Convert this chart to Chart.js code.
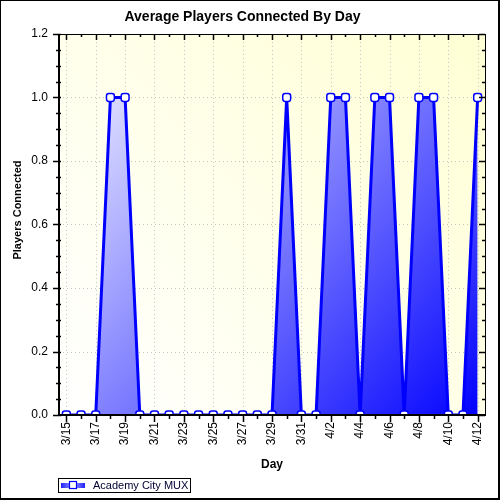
<!DOCTYPE html>
<html>
<head>
<meta charset="utf-8">
<script src="https://cdn.jsdelivr.net/npm/chart.js@4.4.1/dist/chart.umd.min.js"></script>
<style>
  html, body { margin: 0; padding: 0; background: #fff; }
  #wrap { width: 500px; height: 500px; }
</style>
</head>
<body>
<div id="wrap"><canvas id="chart" width="500" height="500"></canvas></div>
<script>
// Days on the x axis (one per day, every other one labelled)
const days = ['3/15', '3/16', '3/17', '3/18', '3/19', '3/20', '3/21', '3/22', '3/23', '3/24',
    '3/25', '3/26', '3/27', '3/28', '3/29', '3/30', '3/31', '4/1', '4/2', '4/3',
    '4/4', '4/5', '4/6', '4/7', '4/8', '4/9', '4/10', '4/11', '4/12'];

// Average players connected per day
const players = [0, 0, 0, 1, 1, 0, 0, 0, 0, 0,
    0, 0, 0, 0, 0, 1, 0, 0, 1, 1,
    0, 1, 1, 0, 1, 1, 0, 0, 1];

const seriesName = 'Academy City MUX';
const yTitle = 'Players Connected';
const yMin = 0;
const yMax = 1.2;
const yStep = 0.2;
const yMinorStep = 0.05;

const FONT = "Arial, 'Liberation Sans', sans-serif";

// fill gradient over the plot area (light top-left -> deep blue bottom-right)
function fillGradient(context) {
    const { ctx, chartArea } = context.chart;
    if (!chartArea) return 'rgba(0,0,255,0.5)';
    const g = ctx.createLinearGradient(chartArea.left, chartArea.top, chartArea.right, chartArea.bottom);
    g.addColorStop(0, '#ffffff');
    g.addColorStop(1, '#0000ff');
    return g;
}

// background, dotted grid, axis frame and tick marks
const framePlugin = {
    id: 'frame',
    beforeDraw(chart) {
        const { ctx, chartArea: a, width, height } = chart;
        ctx.save();
        ctx.fillStyle = '#ffffff';
        ctx.fillRect(0, 0, width, height);
        const bg = ctx.createLinearGradient(a.left, a.bottom, a.right, a.top);
        bg.addColorStop(0, '#ffffff');
        bg.addColorStop(1, '#ffffd4');
        ctx.fillStyle = bg;
        ctx.fillRect(a.left, a.top, a.right - a.left, a.bottom - a.top);
        ctx.restore();
    },
    beforeDatasetsDraw(chart) {
        const { ctx, chartArea: a, scales: { x, y } } = chart;
        ctx.save();
        ctx.strokeStyle = '#c4c4c4';
        ctx.lineWidth = 1;
        ctx.setLineDash([1, 3]);
        days.forEach((d, i) => {
            if (i % 2 !== 0) return;
            const px = Math.round(x.getPixelForValue(i)) + 0.5;
            ctx.beginPath();
            ctx.moveTo(px, a.top);
            ctx.lineTo(px, a.bottom);
            ctx.stroke();
        });
        for (let v = yMin + yStep; v < yMax - 1e-9; v += yStep) {
            const py = Math.round(y.getPixelForValue(v)) + 0.5;
            ctx.beginPath();
            ctx.moveTo(a.left, py);
            ctx.lineTo(a.right, py);
            ctx.stroke();
        }
        ctx.restore();
    },
    afterDraw(chart) {
        const { ctx, chartArea: a, scales: { x, y }, width, height } = chart;
        ctx.save();
        ctx.strokeStyle = '#000';
        // plot frame
        ctx.lineWidth = 1;
        ctx.strokeRect(a.left + 0.5, a.top + 0.5, a.right - a.left, a.bottom - a.top);
        ctx.lineWidth = 2;
        ctx.beginPath();
        ctx.moveTo(a.left, a.top);
        ctx.lineTo(a.left, a.bottom);
        ctx.lineTo(a.right, a.bottom);
        ctx.stroke();
        // x ticks (bottom outward, top inward)
        ctx.lineWidth = 1.5;
        days.forEach((d, i) => {
            const px = Math.round(x.getPixelForValue(i)) + 0.5;
            const len = i % 2 === 0 ? 7 : 4;
            ctx.beginPath();
            ctx.moveTo(px, a.bottom);
            ctx.lineTo(px, a.bottom + len);
            ctx.moveTo(px, a.top);
            ctx.lineTo(px, a.top + len - 1);
            ctx.stroke();
        });
        // y ticks (left outward, right inward)
        const n = Math.round((yMax - yMin) / yMinorStep);
        for (let k = 0; k <= n; k++) {
            const v = yMin + k * yMinorStep;
            const py = Math.round(y.getPixelForValue(v)) + 0.5;
            const major = k % Math.round(yStep / yMinorStep) === 0;
            const len = major ? 6 : 3;
            ctx.beginPath();
            ctx.moveTo(a.left - len, py);
            ctx.lineTo(a.left + 2, py);
            ctx.moveTo(a.right, py);
            ctx.lineTo(a.right - len, py);
            ctx.stroke();
        }
        // y axis title (sits a bit above the plot's middle, as in the original)
        ctx.save();
        ctx.translate(17.5, 210);
        ctx.rotate(-Math.PI / 2);
        ctx.fillStyle = '#000';
        ctx.font = 'bold 11px ' + FONT;
        ctx.textAlign = 'center';
        ctx.textBaseline = 'middle';
        ctx.fillText(yTitle, 0, 0);
        ctx.restore();
        // legend
        const lx = 58, ly = 478;
        ctx.lineWidth = 1;
        ctx.strokeRect(lx + 0.5, ly + 0.5, 132, 14);
        const lg = ctx.createLinearGradient(lx + 3, 0, lx + 27, 0);
        lg.addColorStop(0, '#2020ff');
        lg.addColorStop(0.5, '#a0a0ff');
        lg.addColorStop(1, '#2020ff');
        ctx.fillStyle = lg;
        ctx.fillRect(lx + 3, ly + 5, 24, 5);
        ctx.fillStyle = '#ffffff';
        ctx.strokeStyle = '#0000ff';
        ctx.lineWidth = 1.2;
        ctx.fillRect(lx + 11.5, ly + 3.5, 7, 7);
        ctx.strokeRect(lx + 11.5, ly + 3.5, 7, 7);
        ctx.fillStyle = '#000033';
        ctx.font = '11px ' + FONT;
        ctx.textBaseline = 'middle';
        ctx.textAlign = 'left';
        ctx.fillText(seriesName, lx + 35, ly + 7.5);
        // outer border
        ctx.strokeStyle = '#000';
        ctx.lineWidth = 1;
        ctx.strokeRect(0.5, 0.5, width - 1, height - 1);
        ctx.lineWidth = 2;
        ctx.beginPath();
        ctx.moveTo(width - 1, 0);
        ctx.lineTo(width - 1, height - 1);
        ctx.lineTo(0, height - 1);
        ctx.stroke();
        ctx.restore();
    }
};

new Chart(document.getElementById('chart'), {
    type: 'line',
    data: {
        labels: days,
        datasets: [{
            label: seriesName,
            data: players,
            borderColor: '#0000ff',
            borderWidth: 3,
            backgroundColor: fillGradient,
            fill: 'origin',
            tension: 0,
            pointStyle: 'rectRounded',
            pointRadius: 4.6,
            pointBorderWidth: 1.5,
            pointBackgroundColor: '#ffffff',
            pointBorderColor: '#0000ff',
            clip: 0
        }]
    },
    options: {
        responsive: false,
        animation: false,
        devicePixelRatio: 1,
        layout: { padding: { left: 0, right: 15, top: 0, bottom: 28 } },
        plugins: {
            legend: { display: false },
            tooltip: { enabled: false },
            title: {
                display: true,
                text: 'Average Players Connected By Day',
                color: '#000',
                font: { family: FONT, size: 14, weight: 'bold' },
                padding: { top: 9, bottom: 8.2 }
            }
        },
        scales: {
            x: {
                type: 'category',
                offset: true,
                grid: { display: false, drawTicks: false, offset: false },
                border: { display: false },
                afterFit(scale) { scale.height = 57; },
                ticks: {
                    autoSkip: false,
                    maxRotation: 90,
                    minRotation: 90,
                    padding: 7,
                    color: '#000',
                    font: { family: FONT, size: 12 },
                    callback: (v, i) => (i % 2 === 0 ? days[i] : '')
                },
                title: {
                    display: true,
                    text: 'Day',
                    color: '#000',
                    font: { family: FONT, size: 12, weight: 'bold' },
                    padding: { top: 0, bottom: 0 }
                }
            },
            y: {
                min: yMin,
                max: yMax,
                grid: { display: false, drawTicks: false },
                border: { display: false },
                afterFit(scale) { scale.width = 59; },
                ticks: {
                    stepSize: yStep,
                    padding: 11,
                    color: '#000',
                    font: { family: FONT, size: 12 },
                    callback: (v) => Number(v).toFixed(1)
                }
            }
        }
    },
    plugins: [framePlugin]
});
</script>
</body>
</html>
